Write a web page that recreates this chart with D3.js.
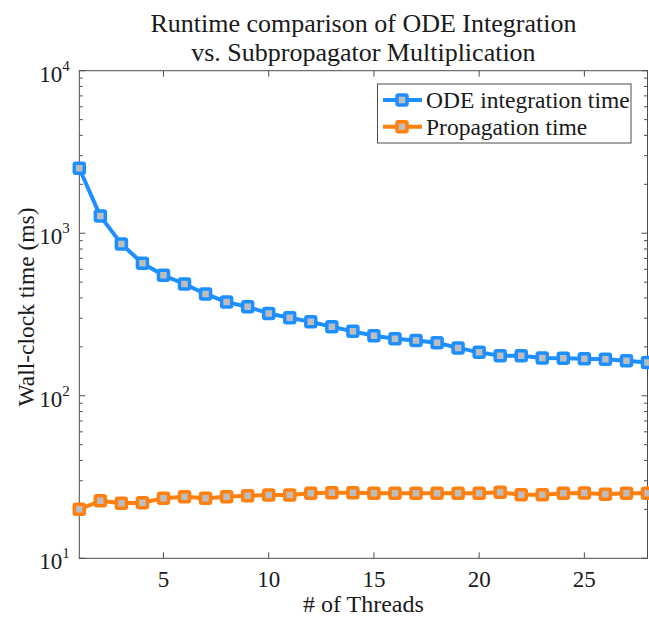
<!DOCTYPE html>
<html>
<head>
<meta charset="utf-8">
<script src="https://cdn.jsdelivr.net/npm/d3@7"></script>
<style>
  body { margin: 0; background: #fff; }
</style>
</head>
<body>
<script>
const threads = [1, 2, 3, 4, 5, 6, 7, 8, 9, 10, 11, 12, 13, 14, 15, 16, 17, 18, 19, 20, 21, 22, 23, 24, 25, 26, 27, 28];
const odeTime = [2510, 1275, 860, 653, 551, 487, 423, 377, 353, 321, 302, 285, 266, 249, 234, 224, 219, 212, 197, 185, 176, 176, 171, 170, 169, 168, 164, 160];
const propTime = [20.0, 22.6, 21.8, 22.0, 23.4, 23.9, 23.4, 23.9, 24.3, 24.5, 24.5, 25.1, 25.3, 25.3, 25.1, 25.1, 25.1, 25.1, 25.1, 25.1, 25.5, 24.6, 24.6, 25.1, 25.2, 24.8, 25.1, 25.1];
const xTicks = [5, 10, 15, 20, 25];
const yTicks = [10, 100, 1000, 10000];
const seriesNames = ["ODE integration time", "Propagation time"];
const seriesColors = ["#1e8fff", "#ff7f0f"];

const width = 649;
const height = 619;
const plot = { left: 79.3, right: 647.5, top: 70.7, bottom: 558.3 };
const axisColor = "#4d4d4d";
const textColor = "#1a1a1a";
const markerFill = "#bdbdbd";
const serif = "Liberation Serif";

const svg = d3.select("body")
    .append("svg")
    .attr("width", width)
    .attr("height", height);

const x = d3.scaleLinear().domain([1, 28]).range([plot.left, plot.right]);
const y = d3.scaleLog().domain([10, 10000]).range([plot.bottom, plot.top]);

// minor ticks for the log axis
const minorTicks = [];
[10, 100, 1000].forEach(dec => {
    for (let k = 2; k <= 9; k++) minorTicks.push(dec * k);
});

const axes = svg.append("g").attr("stroke", axisColor).attr("stroke-width", 1).attr("fill", "none");

// ticks (inside, on all four sides)
xTicks.forEach(t => {
    axes.append("line").attr("x1", x(t)).attr("x2", x(t)).attr("y1", plot.bottom).attr("y2", plot.bottom - 6);
    axes.append("line").attr("x1", x(t)).attr("x2", x(t)).attr("y1", plot.top).attr("y2", plot.top + 6);
});
yTicks.forEach(t => {
    axes.append("line").attr("x1", plot.left).attr("x2", plot.left + 6).attr("y1", y(t)).attr("y2", y(t));
    axes.append("line").attr("x1", plot.right).attr("x2", plot.right - 6).attr("y1", y(t)).attr("y2", y(t));
});
minorTicks.forEach(t => {
    axes.append("line").attr("x1", plot.left).attr("x2", plot.left + 3.5).attr("y1", y(t)).attr("y2", y(t));
    axes.append("line").attr("x1", plot.right).attr("x2", plot.right - 3.5).attr("y1", y(t)).attr("y2", y(t));
});

axes.append("rect")
    .attr("x", plot.left)
    .attr("y", plot.top)
    .attr("width", plot.right - plot.left)
    .attr("height", plot.bottom - plot.top);

// tick labels
svg.append("g")
    .selectAll("text")
    .data(xTicks)
    .join("text")
    .attr("x", d => x(d))
    .attr("y", plot.bottom + 29)
    .attr("text-anchor", "middle")
    .attr("font-size", 23)
    .style("font-family", serif)
    .attr("fill", textColor)
    .text(d => d);

const yLabels = svg.append("g")
    .selectAll("text")
    .data(yTicks)
    .join("text")
    .attr("x", plot.left - 40)
    .attr("y", d => y(d) + 11)
    .attr("font-size", 23)
    .style("font-family", serif)
    .attr("fill", textColor);
yLabels.append("tspan").text("10");
yLabels.append("tspan")
    .attr("dy", -11)
    .attr("font-size", 15)
    .text(d => Math.round(Math.log10(d)));

// axis titles
svg.append("text")
    .attr("x", (plot.left + plot.right) / 2)
    .attr("y", 612)
    .attr("text-anchor", "middle")
    .attr("font-size", 24)
    .style("font-family", serif)
    .attr("fill", textColor)
    .text("# of Threads");

svg.append("text")
    .attr("transform", "translate(34,307) rotate(-90)")
    .attr("text-anchor", "middle")
    .attr("font-size", 23.5)
    .style("font-family", serif)
    .attr("fill", textColor)
    .text("Wall-clock time (ms)");

// title
const cx = (plot.left + plot.right) / 2;
const title = svg.append("text")
    .attr("text-anchor", "middle")
    .attr("font-size", 26)
    .style("font-family", serif)
    .attr("fill", textColor);
title.append("tspan").attr("x", cx).attr("y", 32).text("Runtime comparison of ODE Integration");
title.append("tspan").attr("x", cx).attr("y", 61).text("vs. Subpropagator Multiplication");

// series
const series = [odeTime, propTime];
const line = d3.line().x(d => x(d.t)).y(d => y(d.v));
const ms = 10;

function marker(g, px, py, color) {
    g.append("rect")
        .attr("x", px - ms / 2)
        .attr("y", py - ms / 2)
        .attr("width", ms)
        .attr("height", ms)
        .attr("fill", markerFill)
        .attr("stroke", color)
        .attr("stroke-width", 3.5)
        .attr("rx", 1.5);
}

series.forEach((vals, i) => {
    const pts = threads.map((t, j) => ({ t: t, v: vals[j] }));
    const g = svg.append("g");
    g.append("path")
        .datum(pts)
        .attr("d", line)
        .attr("fill", "none")
        .attr("stroke", seriesColors[i])
        .attr("stroke-width", 4)
        .attr("stroke-linejoin", "round");
    pts.forEach(d => marker(g, x(d.t), y(d.v), seriesColors[i]));
});

// legend
const legend = svg.append("g");
legend.append("rect")
    .attr("x", 377.5)
    .attr("y", 84)
    .attr("width", 253.5)
    .attr("height", 59)
    .attr("fill", "#fff")
    .attr("stroke", axisColor)
    .attr("stroke-width", 1);

seriesNames.forEach((name, i) => {
    const cy = 100 + i * 26.7;
    legend.append("line")
        .attr("x1", 383).attr("x2", 422)
        .attr("y1", cy).attr("y2", cy)
        .attr("stroke", seriesColors[i])
        .attr("stroke-width", 4);
    marker(legend, 402, cy, seriesColors[i]);
    legend.append("text")
        .attr("x", 426)
        .attr("y", cy + 8)
        .attr("font-size", 23.5)
        .style("font-family", serif)
        .attr("fill", textColor)
        .text(name);
});
</script>
</body>
</html>
